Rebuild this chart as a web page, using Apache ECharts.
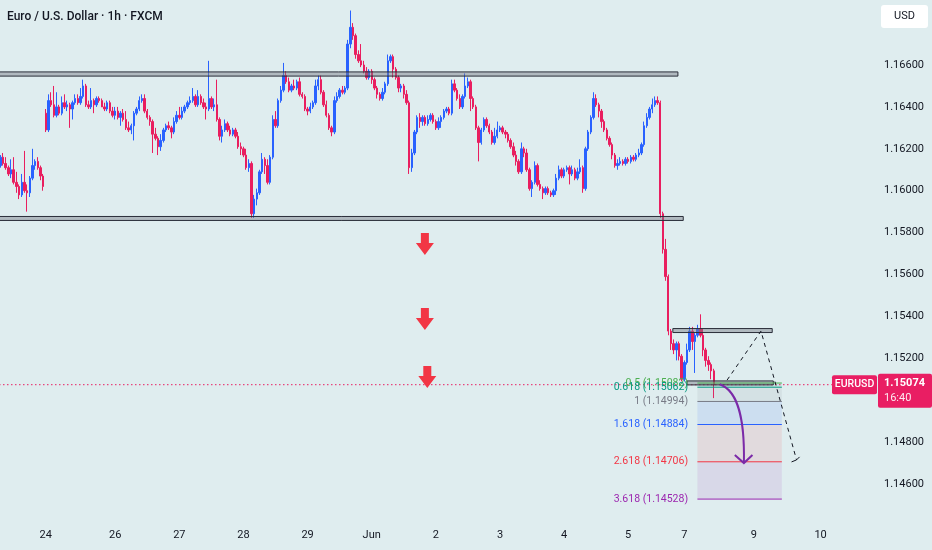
<!DOCTYPE html>
<html><head><meta charset="utf-8">
<script src="https://cdn.jsdelivr.net/npm/echarts@6/dist/echarts.min.js"></script>
<style>html,body{margin:0;padding:0;background:#dfedef}#c{width:932px;height:550px}</style>
</head><body><div id="c"></div>
<script>
const N_SLOTS = 323;
// hourly candles: [open, close, low, high]
const candles = [
[1.1612,1.1616,1.1611,1.1617],[1.1616,1.1613,1.1612,1.1618],[1.1613,1.1611,1.1610,1.1616],[1.1611,1.1608,1.1607,1.1612],
[1.1608,1.1610,1.1606,1.1615],[1.1610,1.1604,1.1603,1.1616],[1.1604,1.1602,1.1599,1.1609],[1.1602,1.1598,1.1596,1.1603],
[1.1598,1.1604,1.1597,1.1608],[1.1604,1.1600,1.1599,1.1619],[1.1600,1.1599,1.1590,1.1603],[1.1599,1.1606,1.1597,1.1607],
[1.1606,1.1612,1.1605,1.1620],[1.1612,1.1614,1.1610,1.1615],[1.1614,1.1611,1.1610,1.1616],[1.1611,1.1607,1.1605,1.1612],
[1.1607,1.1602,1.1600,1.1608],
[1.1637,1.1629,1.1628,1.1639],[1.1629,1.1643,1.1628,1.1646],[1.1643,1.1641,1.1640,1.1647],
[1.1641,1.1636,1.1635,1.1650],[1.1636,1.1640,1.1635,1.1647],[1.1640,1.1637,1.1636,1.1641],[1.1637,1.1642,1.1636,1.1645],[1.1642,1.1640,1.1639,1.1646],
[1.1640,1.1641,1.1638,1.1643],[1.1641,1.1639,1.1630,1.1642],[1.1639,1.1642,1.1634,1.1643],[1.1642,1.1644,1.1641,1.1646],[1.1644,1.1642,1.1641,1.1646],
[1.1642,1.1645,1.1641,1.1649],[1.1645,1.1650,1.1644,1.1653],[1.1650,1.1641,1.1640,1.1651],[1.1641,1.1640,1.1639,1.1643],[1.1640,1.1643,1.1639,1.1649],
[1.1643,1.1641,1.1637,1.1644],[1.1641,1.1644,1.1640,1.1645],[1.1644,1.1643,1.1642,1.1645],[1.1643,1.1640,1.1640,1.1644],[1.1640,1.1639,1.1638,1.1642],
[1.1639,1.1642,1.1638,1.1643],[1.1642,1.1638,1.1637,1.1643],[1.1638,1.1636,1.1635,1.1640],[1.1636,1.1638,1.1634,1.1640],[1.1638,1.1635,1.1634,1.1640],
[1.1635,1.1637,1.1631,1.1638],[1.1637,1.1634,1.1633,1.1639],[1.1634,1.1630,1.1629,1.1638],[1.1630,1.1629,1.1628,1.1633],[1.1629,1.1631,1.1627,1.1632],
[1.1631,1.1637,1.1624,1.1638],[1.1637,1.1639,1.1636,1.1640],[1.1639,1.1643,1.1638,1.1645],[1.1643,1.1644,1.1642,1.1646],[1.1644,1.1638,1.1637,1.1646],
[1.1638,1.1635,1.1634,1.1639],[1.1635,1.1633,1.1631,1.1636],[1.1633,1.1627,1.1618,1.1634],[1.1627,1.1625,1.1624,1.1630],[1.1625,1.1621,1.1617,1.1626],
[1.1621,1.1624,1.1619,1.1627],[1.1624,1.1629,1.1623,1.1630],[1.1629,1.1631,1.1628,1.1632],[1.1631,1.1630,1.1629,1.1633],[1.1630,1.1628,1.1625,1.1631],
[1.1628,1.1633,1.1627,1.1635],[1.1633,1.1636,1.1632,1.1638],[1.1636,1.1635,1.1634,1.1640],[1.1635,1.1638,1.1634,1.1640],[1.1638,1.1640,1.1637,1.1641],
[1.1640,1.1642,1.1639,1.1643],[1.1642,1.1643,1.1641,1.1645],[1.1643,1.1645,1.1642,1.1649],[1.1645,1.1641,1.1640,1.1646],[1.1641,1.1645,1.1640,1.1648],
[1.1645,1.1642,1.1641,1.1646],[1.1642,1.1640,1.1639,1.1644],[1.1640,1.1639,1.1634,1.1642],[1.1639,1.1644,1.1638,1.1662],[1.1644,1.1640,1.1639,1.1645],
[1.1640,1.1641,1.1638,1.1644],[1.1641,1.1634,1.1633,1.1653],[1.1634,1.1626,1.1624,1.1635],[1.1626,1.1629,1.1623,1.1631],[1.1629,1.1632,1.1628,1.1634],
[1.1632,1.1629,1.1628,1.1633],[1.1629,1.1627,1.1626,1.1631],[1.1627,1.1629,1.1626,1.1630],[1.1629,1.1626,1.1625,1.1630],[1.1626,1.1621,1.1620,1.1628],
[1.1621,1.1620,1.1617,1.1623],[1.1620,1.1617,1.1616,1.1621],[1.1617,1.1611,1.1610,1.1620],[1.1611,1.1613,1.1609,1.1615],[1.1613,1.1589,1.1587,1.1614],
[1.1589,1.1596,1.1587,1.1598],[1.1596,1.1599,1.1593,1.1601],[1.1599,1.1609,1.1598,1.1610],[1.1609,1.1615,1.1608,1.1618],[1.1615,1.1612,1.1608,1.1616],
[1.1612,1.1604,1.1603,1.1615],[1.1604,1.1616,1.1603,1.1617],[1.1616,1.1634,1.1615,1.1636],[1.1634,1.1631,1.1630,1.1638],[1.1631,1.1643,1.1630,1.1644],
[1.1643,1.1648,1.1642,1.1650],[1.1648,1.1655,1.1647,1.1661],[1.1655,1.1652,1.1651,1.1657],[1.1652,1.1648,1.1647,1.1654],[1.1648,1.1650,1.1647,1.1651],
[1.1650,1.1649,1.1648,1.1653],[1.1649,1.1652,1.1648,1.1653],[1.1652,1.1646,1.1645,1.1654],[1.1646,1.1645,1.1644,1.1647],[1.1645,1.1639,1.1638,1.1646],
[1.1639,1.1638,1.1636,1.1640],[1.1638,1.1640,1.1637,1.1642],[1.1640,1.1642,1.1639,1.1643],[1.1642,1.1650,1.1641,1.1653],[1.1650,1.1653,1.1648,1.1655],
[1.1653,1.1647,1.1646,1.1655],[1.1647,1.1641,1.1640,1.1648],[1.1641,1.1636,1.1635,1.1643],[1.1636,1.1630,1.1629,1.1637],[1.1630,1.1628,1.1626,1.1631],
[1.1628,1.1643,1.1627,1.1645],[1.1643,1.1645,1.1642,1.1647],[1.1645,1.1648,1.1644,1.1649],[1.1648,1.1647,1.1646,1.1650],[1.1647,1.1649,1.1646,1.1650],
[1.1649,1.1670,1.1648,1.1672],[1.1670,1.1678,1.1668,1.1686],[1.1678,1.1674,1.1672,1.1680],[1.1674,1.1665,1.1663,1.1675],[1.1665,1.1662,1.1661,1.1667],
[1.1662,1.1660,1.1659,1.1670],[1.1660,1.1657,1.1656,1.1662],[1.1657,1.1654,1.1653,1.1659],[1.1654,1.1657,1.1653,1.1658],[1.1657,1.1653,1.1651,1.1658],
[1.1653,1.1649,1.1648,1.1654],[1.1649,1.1646,1.1644,1.1650],[1.1646,1.1644,1.1643,1.1647],[1.1644,1.1647,1.1643,1.1649],[1.1647,1.1651,1.1646,1.1652],
[1.1651,1.1662,1.1650,1.1665],[1.1662,1.1664,1.1661,1.1665],[1.1664,1.1658,1.1654,1.1665],[1.1658,1.1654,1.1653,1.1659],[1.1654,1.1649,1.1647,1.1655],
[1.1649,1.1650,1.1647,1.1651],[1.1650,1.1646,1.1644,1.1651],[1.1646,1.1642,1.1641,1.1648],[1.1642,1.1611,1.1608,1.1643],[1.1611,1.1618,1.1609,1.1620],
[1.1618,1.1628,1.1617,1.1629],[1.1628,1.1635,1.1627,1.1636],[1.1635,1.1633,1.1630,1.1637],[1.1633,1.1635,1.1631,1.1636],[1.1635,1.1632,1.1631,1.1636],
[1.1632,1.1634,1.1631,1.1636],[1.1634,1.1636,1.1633,1.1637],[1.1636,1.1633,1.1632,1.1637],[1.1633,1.1630,1.1629,1.1634],[1.1630,1.1633,1.1629,1.1635],
[1.1633,1.1635,1.1630,1.1636],[1.1635,1.1638,1.1634,1.1639],[1.1638,1.1639,1.1637,1.1640],[1.1639,1.1637,1.1636,1.1640],[1.1637,1.1651,1.1636,1.1653],
[1.1651,1.1648,1.1647,1.1653],[1.1648,1.1644,1.1643,1.1649],[1.1644,1.1640,1.1639,1.1646],[1.1640,1.1645,1.1639,1.1646],[1.1645,1.1650,1.1644,1.1656],
[1.1650,1.1652,1.1649,1.1654],[1.1652,1.1644,1.1638,1.1653],[1.1644,1.1640,1.1639,1.1645],[1.1640,1.1630,1.1629,1.1641],[1.1630,1.1623,1.1614,1.1631],
[1.1623,1.1629,1.1622,1.1630],[1.1629,1.1634,1.1628,1.1635],[1.1634,1.1631,1.1630,1.1635],[1.1631,1.1628,1.1627,1.1632],[1.1628,1.1623,1.1622,1.1629],
[1.1623,1.1626,1.1622,1.1630],[1.1626,1.1629,1.1625,1.1633],[1.1629,1.1630,1.1628,1.1631],[1.1630,1.1628,1.1627,1.1631],[1.1628,1.1627,1.1625,1.1629],
[1.1627,1.1624,1.1623,1.1628],[1.1624,1.1621,1.1620,1.1625],[1.1621,1.1617,1.1616,1.1623],[1.1617,1.1614,1.1612,1.1619],[1.1614,1.1609,1.1608,1.1615],
[1.1609,1.1620,1.1608,1.1623],[1.1620,1.1618,1.1616,1.1621],[1.1618,1.1610,1.1609,1.1620],[1.1610,1.1601,1.1600,1.1611],[1.1601,1.1604,1.1597,1.1605],
[1.1604,1.1612,1.1603,1.1614],[1.1612,1.1603,1.1602,1.1613],[1.1603,1.1601,1.1600,1.1605],[1.1601,1.1599,1.1596,1.1602],[1.1599,1.1601,1.1598,1.1602],
[1.1601,1.1599,1.1598,1.1602],[1.1599,1.1598,1.1597,1.1600],[1.1598,1.1600,1.1597,1.1601],[1.1600,1.1606,1.1598,1.1608],[1.1606,1.1610,1.1605,1.1612],
[1.1610,1.1607,1.1606,1.1611],[1.1607,1.1610,1.1606,1.1611],[1.1610,1.1611,1.1609,1.1612],[1.1611,1.1608,1.1603,1.1612],[1.1608,1.1610,1.1607,1.1612],
[1.1610,1.1606,1.1605,1.1611],[1.1606,1.1609,1.1605,1.1611],[1.1609,1.1611,1.1608,1.1615],[1.1611,1.1601,1.1599,1.1612],[1.1601,1.1620,1.1600,1.1621],
[1.1620,1.1628,1.1619,1.1629],[1.1628,1.1635,1.1627,1.1636],[1.1635,1.1644,1.1634,1.1647],[1.1644,1.1641,1.1640,1.1646],[1.1641,1.1638,1.1635,1.1642],
[1.1638,1.1633,1.1630,1.1639],[1.1633,1.1629,1.1628,1.1634],[1.1629,1.1625,1.1624,1.1630],[1.1625,1.1622,1.1621,1.1626],[1.1622,1.1617,1.1615,1.1623],
[1.1617,1.1612,1.1611,1.1618],[1.1612,1.1613,1.1610,1.1615],[1.1613,1.1614,1.1612,1.1616],[1.1614,1.1613,1.1612,1.1615],[1.1613,1.1615,1.1612,1.1616],
[1.1615,1.1614,1.1613,1.1616],[1.1614,1.1616,1.1613,1.1617],[1.1616,1.1615,1.1614,1.1617],[1.1615,1.1617,1.1614,1.1618],[1.1617,1.1618,1.1616,1.1620],
[1.1618,1.1622,1.1617,1.1623],[1.1622,1.1631,1.1621,1.1633],[1.1631,1.1635,1.1630,1.1637],[1.1635,1.1639,1.1634,1.1640],[1.1639,1.1641,1.1637,1.1644],
[1.1641,1.1643,1.1640,1.1645],[1.1643,1.1642,1.1641,1.1645],[1.1642,1.1589,1.1587,1.1643],[1.1589,1.1572,1.1570,1.1590],[1.1572,1.1559,1.1557,1.1577],
[1.1559,1.1533,1.1531,1.1560],[1.1533,1.1527,1.1524,1.1534],[1.1527,1.1524,1.1522,1.1529],[1.1524,1.1527,1.1519,1.1528],[1.1527,1.1521,1.1519,1.1528],
[1.1521,1.1510,1.1509,1.1522],[1.1510,1.1518,1.1509,1.1519],[1.1518,1.1524,1.1517,1.1527],[1.1524,1.1533,1.1523,1.1535],[1.1533,1.1528,1.1524,1.1535],
[1.1528,1.1531,1.1513,1.1532],[1.1531,1.1534,1.1530,1.1536],[1.1534,1.1531,1.1530,1.1541],[1.1531,1.1524,1.1521,1.1534],[1.1524,1.1519,1.1516,1.1525],
[1.1519,1.1517,1.1514,1.1521],[1.1517,1.1514,1.1510,1.1518],[1.1514,1.15074,1.1501,1.1515]
];
const xLabelIdx  = [17, 43, 67, 91, 115, 139, 163, 187, 211, 235, 256, 282, 307];
const xLabelText = ['24','26','27','28','29','Jun','2','3','4','5','7','9','10'];
const yTickLabels = ['1.14600','1.14800','1.15200','1.15400','1.15600','1.15800','1.16000','1.16200','1.16400','1.16600'];
const lastPrice = 1.15074;
const lastTime = '16:40';
const symbolName = 'EURUSD';
const titleText = 'Euro / U.S. Dollar · 1h · FXCM';
// drawings in [bar index, price]
const rangeBoxes = [[-0.5, 253.6, 1.16567, 1.16547], [-0.5, 255.6, 1.15877, 1.15858], [251.7, 288.9, 1.15342, 1.15323], [257.0, 289.3, 1.15092, 1.15073]];
const fibLevels = [0.5, 0.618, 1, 1.618, 2.618, 3.618];
const fibPrices = [1.15082, 1.15062, 1.14994, 1.14884, 1.14706, 1.14528];
const fibColors = ['#4caf50', '#089981', '#787b86', '#2962ff', '#f23645', '#9c27b0'];
const fibRange = [260.9, 292.5];
const fibLabelIdx = 257.4;
const arrowTips = [[158.9, 1.15693], [158.9, 1.15335], [159.8, 1.15058]];
const dashedPath = [[272.0, 1.15096], [284.7, 1.15330], [298.0, 1.14715]];
const curvePts = [[269.3, 1.15076], [274.9, 1.15049], [278.7, 1.14953], [278.3, 1.14700]];
const curveHead = [[274.9, 1.14738], [278.3, 1.14700], [281.5, 1.14738]];

const FONT = 'Roboto, "Noto Sans", sans-serif';
const UP = '#2962ff', DOWN = '#e91e5f', LABEL = '#e91e63';
const categories = Array.from({length: N_SLOTS}, (_, i) => String(i));

const chart = echarts.init(document.getElementById('c'));
chart.setOption({
  animation: false,
  backgroundColor: '#dfedef',
  grid: {left: -1, right: 70, top: 0, bottom: 24.1, outerBoundsMode: 'none'},
  xAxis: [{
    type: 'category', data: categories, boundaryGap: true,
    axisLine: {show: false}, axisTick: {show: false}, splitLine: {show: false},
    axisLabel: {
      interval: (i) => xLabelIdx.indexOf(i) >= 0,
      formatter: (v, i) => { const k = xLabelIdx.indexOf(i); return k >= 0 ? xLabelText[k] : ''; },
      color: '#131722', fontSize: 11, margin: 4, fontFamily: FONT
    }
  }, {type: 'value', min: -0.5, max: N_SLOTS - 0.5, show: false}],
  yAxis: {
    type: 'value', position: 'right', min: 1.144, max: 1.169103, interval: 0.002,
    splitLine: {show: false}, axisLine: {show: false}, axisTick: {show: false},
    axisLabel: {
      margin: 22, color: '#131722', fontSize: 11, fontFamily: FONT,
      showMinLabel: false,
      formatter: (v) => { const s = v.toFixed(5); return yTickLabels.indexOf(s) >= 0 ? s : ''; }
    }
  },
  series: [{
    type: 'candlestick', data: candles, barWidth: 1.9,
    itemStyle: {color: UP, color0: DOWN, borderColor: UP, borderColor0: DOWN, borderWidth: 1}
  }, {type: 'line', xAxisIndex: 1, data: [], silent: true}]
});

function P(i, p) { return chart.convertToPixel({xAxisIndex: 1, yAxisIndex: 0}, [i, p]); }
const els = [];
els.push({type: 'text', x: 7, y: 16.5, z: 200, style: {text: titleText, font: '500 12px ' + FONT, fill: '#131722', verticalAlign: 'middle'}});
// fib fills
for (let k = 0; k < fibPrices.length - 1; k++) {
  const a = P(fibRange[0], fibPrices[k]), b = P(fibRange[1], fibPrices[k + 1]);
  els.push({type: 'rect', z: 90, shape: {x: a[0], y: a[1], width: b[0] - a[0], height: b[1] - a[1]},
    style: {fill: fibColors[k + 1], opacity: 0.1}});
}
// range boxes
rangeBoxes.forEach(bx => {
  const a = P(bx[0], bx[2]), b = P(bx[1], bx[3]);
  els.push({type: 'rect', z: 110, shape: {x: a[0], y: a[1], width: b[0] - a[0], height: b[1] - a[1]},
    style: {fill: 'rgba(120,123,134,0.45)', stroke: '#2a2e39', lineWidth: 1}});
});
// fib lines + labels
fibPrices.forEach((p, k) => {
  const a = P(fibRange[0], p), b = P(fibRange[1], p), t = P(fibLabelIdx, p);
  els.push({type: 'line', z: 115, shape: {x1: a[0], y1: a[1], x2: b[0], y2: b[1]}, style: {stroke: fibColors[k], lineWidth: 1}});
  els.push({type: 'text', z: 116, x: t[0], y: t[1], style: {text: fibLevels[k] + ' (' + p.toFixed(5) + ')', font: '10.5px ' + FONT,
    fill: fibColors[k], align: 'right', verticalAlign: 'middle'}});
});
// red arrows
arrowTips.forEach(t => {
  const [x, y] = P(t[0], t[1]);
  els.push({type: 'polygon', z: 120, shape: {points: [[x - 4, y - 22], [x + 4, y - 22], [x + 4, y - 12], [x + 9, y - 12], [x, y], [x - 9, y - 12], [x - 4, y - 12]]},
    style: {fill: '#f23645'}});
});
// dashed projection
els.push({type: 'polyline', z: 120, shape: {points: dashedPath.map(d => P(d[0], d[1]))}, style: {stroke: '#131722', lineWidth: 1, lineDash: [4, 4], fill: null}});
const dEnd = P(dashedPath[2][0], dashedPath[2][1]);
els.push({type: 'polyline', z: 120, shape: {points: [[dEnd[0] - 5, dEnd[1] + 2], [dEnd[0], dEnd[1]], [dEnd[0] + 3, dEnd[1] - 3]]}, style: {stroke: '#131722', lineWidth: 1, fill: null}});
// purple curved arrow
const c = curvePts.map(d => P(d[0], d[1]));
els.push({type: 'bezierCurve', z: 125, shape: {x1: c[0][0], y1: c[0][1], cpx1: c[1][0], cpy1: c[1][1], cpx2: c[2][0], cpy2: c[2][1], x2: c[3][0], y2: c[3][1]},
  style: {stroke: '#7b2aa8', lineWidth: 2, fill: null}});
els.push({type: 'polyline', z: 125, shape: {points: curveHead.map(d => P(d[0], d[1]))}, style: {stroke: '#7b2aa8', lineWidth: 2, fill: null}});
// current price line + labels
const lp = P(-0.5, lastPrice), lp2 = P(311.2, lastPrice);
els.push({type: 'line', z: 105, shape: {x1: lp[0], y1: lp[1], x2: lp2[0], y2: lp2[1]}, style: {stroke: LABEL, lineWidth: 1, lineDash: [1.5, 2.5]}});
const yp = lp[1];
els.push({type: 'rect', z: 200, shape: {x: 832, y: yp - 9.5, width: 45, height: 19, r: 2}, style: {fill: LABEL}});
els.push({type: 'text', z: 201, x: 854.5, y: yp, style: {text: symbolName, font: '500 10.5px ' + FONT, fill: '#ffffff', align: 'center', verticalAlign: 'middle'}});
els.push({type: 'rect', z: 200, shape: {x: 878, y: yp - 11, width: 54, height: 34, r: 2}, style: {fill: LABEL}});
els.push({type: 'text', z: 201, x: 884, y: yp - 1, style: {text: lastPrice.toFixed(5), font: 'bold 11px ' + FONT, fill: '#ffffff', verticalAlign: 'middle'}});
els.push({type: 'text', z: 201, x: 884, y: yp + 14, style: {text: lastTime, font: '11px ' + FONT, fill: 'rgba(255,255,255,0.9)', verticalAlign: 'middle'}});
// USD box
els.push({type: 'rect', z: 200, shape: {x: 881, y: 5, width: 47, height: 23, r: 3}, style: {fill: '#ffffff'}});
els.push({type: 'text', z: 201, x: 904.5, y: 16.5, style: {text: 'USD', font: '11px ' + FONT, fill: '#131722', align: 'center', verticalAlign: 'middle'}});
chart.setOption({graphic: {elements: els}});
</script></body></html>
